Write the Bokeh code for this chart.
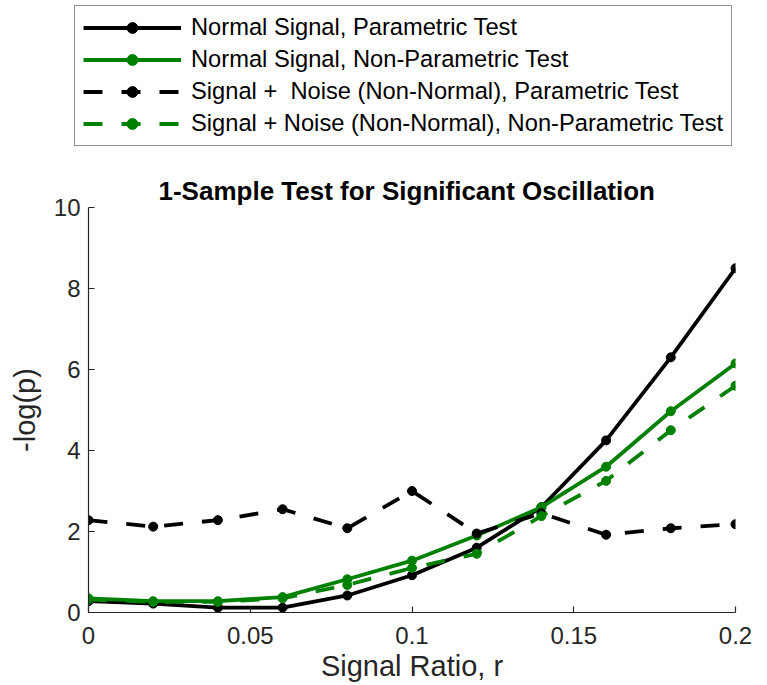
from bokeh.plotting import figure
from bokeh.layouts import column
from bokeh.models import Legend, LegendItem, FixedTicker, Range1d, ColumnDataSource
from bokeh.embed import file_html
from bokeh.resources import INLINE

# Signal ratio r
r = [0.0, 0.02, 0.04, 0.06, 0.08, 0.10, 0.12, 0.14, 0.16, 0.18, 0.20]

# -log(p) for each condition
normal_param = [0.28, 0.22, 0.12, 0.12, 0.42, 0.92, 1.60, 2.60, 4.25, 6.30, 8.50]
normal_nonparam = [0.35, 0.28, 0.28, 0.38, 0.82, 1.28, 1.90, 2.60, 3.60, 4.97, 6.15]
noise_param = [2.28, 2.12, 2.28, 2.55, 2.08, 3.00, 1.95, 2.45, 1.92, 2.08, 2.18]
noise_nonparam = [0.32, 0.26, 0.26, 0.35, 0.68, 1.10, 1.45, 2.38, 3.25, 4.50, 5.60]

series_labels = [
    "Normal Signal, Parametric Test",
    "Normal Signal, Non-Parametric Test",
    "Signal +  Noise (Non-Normal), Parametric Test",
    "Signal + Noise (Non-Normal), Non-Parametric Test",
]

x_ticks = [0, 0.05, 0.1, 0.15, 0.2]
x_tick_labels = ["0", "0.05", "0.1", "0.15", "0.2"]
y_ticks = [0, 2, 4, 6, 8, 10]

FONT = "Liberation Sans"
AXIS_COLOR = "#262626"
GREEN = "#008000"
DASH = "19 19"
LW = 3.8

styles = [
    ("black", "solid"),
    (GREEN, "solid"),
    ("black", DASH),
    (GREEN, DASH),
]
series = [normal_param, normal_nonparam, noise_param, noise_nonparam]

# ---- main axes -------------------------------------------------------------
p = figure(
    width=767, height=535,
    x_range=Range1d(0, 0.2), y_range=Range1d(0, 10),
    output_backend="svg", toolbar_location=None,
    min_border_left=88, min_border_right=32,
    min_border_top=57, min_border_bottom=73,
    title="1-Sample Test for Significant Oscillation",
)
p.outline_line_color = None
p.grid.visible = False
p.background_fill_color = "white"
p.border_fill_color = "white"

p.title.text_font = FONT
p.title.text_font_size = "26px"
p.title.text_font_style = "bold"
p.title.text_color = "black"
p.title.align = "left"
p.title.offset = 70
p.title.standoff = 4

p.xaxis.ticker = FixedTicker(ticks=x_ticks)
p.xaxis.major_label_overrides = {t: s for t, s in zip(x_ticks, x_tick_labels)}
p.yaxis.ticker = FixedTicker(ticks=y_ticks)
p.xaxis.axis_label = "Signal Ratio, r"
p.yaxis.axis_label = "-log(p)"

for ax in (p.xaxis[0], p.yaxis[0]):
    ax.axis_line_color = AXIS_COLOR
    ax.axis_line_width = 1.2
    ax.major_tick_line_color = AXIS_COLOR
    ax.major_tick_line_width = 1.2
    ax.major_tick_in = 6
    ax.major_tick_out = 0
    ax.minor_tick_line_color = None
    ax.major_label_text_font = FONT
    ax.major_label_text_font_size = "24px"
    ax.major_label_text_color = AXIS_COLOR
    ax.axis_label_text_font = FONT
    ax.axis_label_text_font_size = "29px"
    ax.axis_label_text_font_style = "normal"
    ax.axis_label_text_color = AXIS_COLOR

p.xaxis.major_label_standoff = 14
p.xaxis.axis_label_standoff = 3
p.yaxis.major_label_standoff = 8
p.yaxis.axis_label_standoff = 10

for ys, (color, dash) in zip(series, styles):
    p.line(r, ys, line_color=color, line_width=LW, line_dash=dash)
    p.scatter(r, ys, marker="circle", size=9, fill_color=color, line_color=color)

# ---- legend strip above the axes ------------------------------------------
lg = figure(
    width=767, height=150,
    x_range=Range1d(0, 767), y_range=Range1d(0, 150),
    output_backend="svg", toolbar_location=None,
    x_axis_location=None, y_axis_location=None,
    min_border=0, title=None,
)
lg.outline_line_color = None
lg.grid.visible = False
lg.border_fill_color = "white"
if "frame_align" in lg.properties():
    lg.frame_align = False

# one off-canvas point per style so the legend swatches have something to draw
hidden = ColumnDataSource(data=dict(x=[-1000], y=[-1000]))
items = []
for label, (color, dash) in zip(series_labels, styles):
    ln = lg.line("x", "y", source=hidden, line_color=color, line_width=LW, line_dash=dash)
    mk = lg.scatter("x", "y", source=hidden, marker="circle", size=9,
                    fill_color=color, line_color=color)
    items.append(LegendItem(label=label, renderers=[ln, mk]))

legend = Legend(
    items=items,
    location=(74, 4),
    orientation="vertical",
    glyph_width=98, glyph_height=27,
    label_height=27, label_width=0,
    label_standoff=10, spacing=5, padding=8, margin=0,
    label_text_font=FONT, label_text_font_size="23.7px",
    label_text_color="black",
    border_line_color=AXIS_COLOR, border_line_width=1.2,
    background_fill_color="white", background_fill_alpha=1.0,
)
lg.add_layout(legend)

open("out.html", "w").write(file_html(column(column(lg), p, spacing=0), INLINE))
